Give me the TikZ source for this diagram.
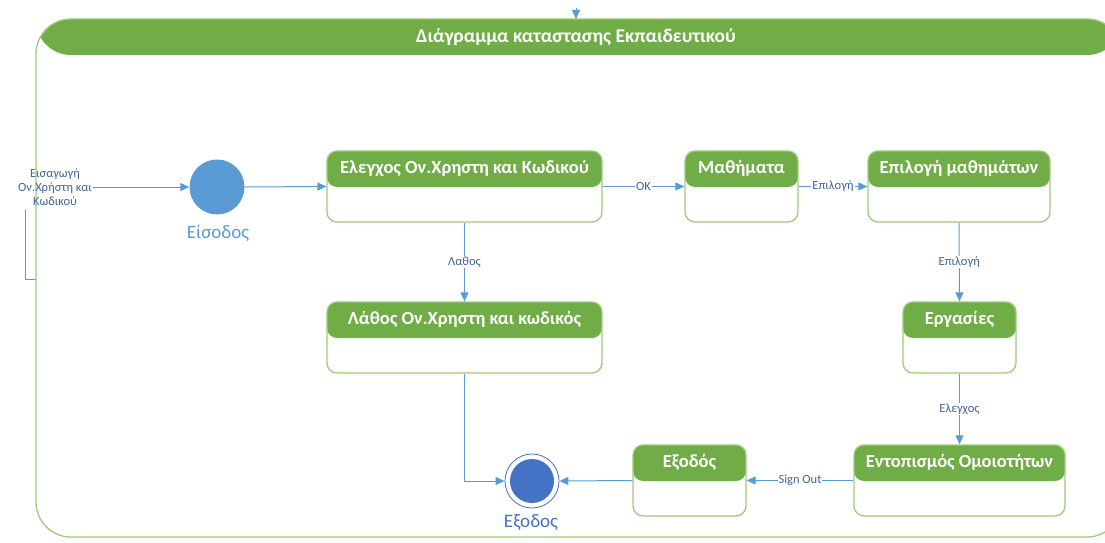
\documentclass[tikz,border=0pt]{standalone}
\usepackage{fontspec}
\setmainfont{Carlito}
\usetikzlibrary{arrows.meta,calc}
\definecolor{hdr}{HTML}{70AD47}
\definecolor{bord}{HTML}{9CCB7A}
\definecolor{conncol}{HTML}{5B9BD5}
\definecolor{lbl}{HTML}{44639A}
\definecolor{fincol}{HTML}{4472C4}
\begin{document}
\begin{tikzpicture}[x=1pt,y=-1pt,
  stbox/.style={draw=bord, line width=1.3pt, rounded corners=10pt, fill=white,
    minimum width=#1, minimum height=71pt, inner sep=0pt,
    path picture={\fill[hdr] (path picture bounding box.north west) rectangle ([yshift=-36pt]path picture bounding box.north east);}},
  sttitle/.style={text=white, font=\fontsize{18.5}{22}\selectfont\bfseries, inner sep=0pt},
  conn/.style={draw=conncol, line width=1pt, -{Triangle[length=9pt,width=8pt]}},
  elbl/.style={fill=white, text=lbl, font=\fontsize{12.5}{14}\selectfont, inner sep=1pt},
  biglbl/.style={font=\fontsize{19}{22}\selectfont, inner sep=0pt}]
\useasboundingbox (0,0) rectangle (1105,543);
\clip (0,0) rectangle (1105,543);
\fill[white] (0,0) rectangle (1105,543);
% frame
\node[draw=bord, line width=1.3pt, rounded corners=35pt, minimum width=1086pt, minimum height=518pt, inner sep=0pt,
  path picture={\fill[hdr] (path picture bounding box.north west) rectangle ([yshift=-36pt]path picture bounding box.north east);}]
  (frame) at (579,278) {};
\node[sttitle, font=\fontsize{19.5}{22}\selectfont\bfseries] (ftitle) at (576,37) {Διάγραμμα καταστασης Εκπαιδευτικού};
\coordinate (topa) at (576,8);
\coordinate (topb) at (576,19);
\draw[conn] (topa) -- (topb);
% states
\node[stbox=275pt] (s1) at (464.5,186.5) {};
\node[sttitle] at ([yshift=-18pt]s1.north) {Ελεγχος Ον.Χρηστη και Κωδικού};
\node[stbox=113pt] (s2) at (741.5,186.5) {};
\node[sttitle] at ([yshift=-18pt]s2.north) {Μαθήματα};
\node[stbox=182pt] (s3) at (959,186.5) {};
\node[sttitle] at ([yshift=-18pt]s3.north) {Επιλογή μαθημάτων};
\node[stbox=275pt] (s4) at (464.5,337.5) {};
\node[sttitle] at ([yshift=-18pt]s4.north) {Λάθος Ον.Χρηστη και κωδικός};
\node[stbox=113pt] (s5) at (959.5,337.5) {};
\node[sttitle] at ([yshift=-18pt]s5.north) {Εργασίες};
\node[stbox=211pt] (s6) at (959.5,480.5) {};
\node[sttitle] at ([yshift=-18pt]s6.north) {Εντοπισμός Ομοιοτήτων};
\node[stbox=113pt] (s7) at (689.5,480.5) {};
\node[sttitle] at ([yshift=-18pt]s7.north) {Εξοδός};
% initial and final
\node[circle, fill=conncol, minimum size=55pt, inner sep=0pt] (init) at (217,187) {};
\node[biglbl, text=conncol] (initl) at (218,233) {Είσοδος};
\node[circle, draw=fincol, line width=0.8pt, fill=white, minimum size=54pt, inner sep=0pt] (fin) at (532,481) {};
\node[circle, fill=fincol, minimum size=44pt, inner sep=0pt] (finin) at (fin) {};
\node[biglbl, text=fincol] (finl) at (531,523) {Εξοδος};
% input text
\node[align=center, text=lbl, font=\fontsize{12.5}{14}\selectfont, inner sep=1pt] (in) at (55,187) {Εισαγωγή\\Ον.Χρήστη και\\Κωδικού};
\coordinate (br1) at (25,210);
\coordinate (br2) at (36,279);
\draw[draw=conncol, line width=1pt] (br1) |- (br2);
% connectors
\draw[conn] (in.east) -- (init.west);
\draw[conn] (init.east) -- (s1.west);
\draw[conn] (s1.east) -- node[elbl] {OK} (s2.west);
\draw[conn] (s2.east) -- node[elbl] {Επιλογή} (s3.west);
\draw[conn] (s1.south) -- node[elbl] {Λαθος} (s4.north);
\draw[conn] (s3.south) -- node[elbl] {Επιλογή} (s5.north);
\draw[conn] (s5.south) -- node[elbl] {Ελεγχος} (s6.north);
\draw[conn] (s6.west) -- node[elbl] {Sign Out} (s7.east);
\draw[conn] (s7.west) -- (fin.east);
\draw[conn] (s4.south) |- (fin.west);
\end{tikzpicture}
\end{document}
